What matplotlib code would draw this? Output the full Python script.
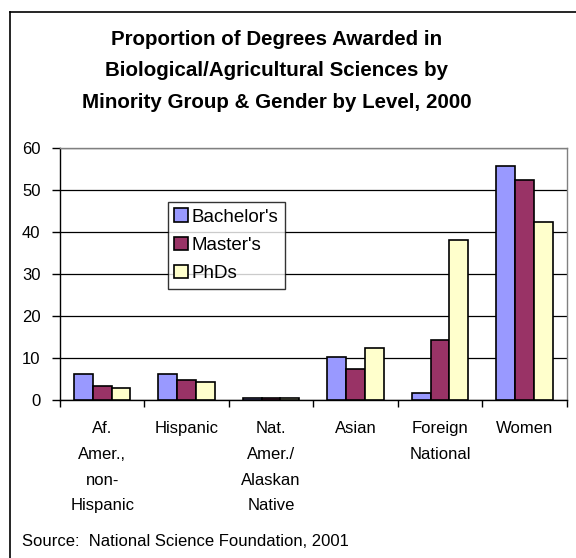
import numpy as np
import matplotlib
matplotlib.use("Agg")
import matplotlib.pyplot as plt
from matplotlib.lines import Line2D

plt.rcParams['font.family'] = ['Liberation Sans', 'DejaVu Sans']

# Data
categories = ["Af.\nAmer.,\nnon-\nHispanic", "Hispanic", "Nat.\nAmer./\nAlaskan\nNative",
              "Asian", "Foreign\nNational", "Women"]
bachelors = [6.2, 6.2, 0.4, 10.3, 1.8, 55.7]
masters = [3.3, 4.8, 0.4, 7.5, 14.2, 52.3]
phds = [2.9, 4.3, 0.4, 12.3, 38.0, 42.4]
series_names = ["Bachelor's", "Master's", "PhDs"]
series_colors = ["#9999FF", "#993366", "#FFFFCC"]
yticks = [0, 10, 20, 30, 40, 50, 60]

title = ("Proportion of Degrees Awarded in\n"
         "Biological/Agricultural Sciences by\n"
         "Minority Group & Gender by Level, 2000")
source = "Source:  National Science Foundation, 2001"


def make_chart():
    fig = plt.figure(figsize=(5.76, 5.58), dpi=100)
    ax = fig.add_axes([0.104, 0.283, 0.880, 0.452])

    x = np.arange(len(categories))
    w = 0.222
    for i, (vals, name, col) in enumerate(zip([bachelors, masters, phds], series_names, series_colors)):
        ax.bar(x + (i - 1) * w, vals, width=w, color=col, edgecolor="black",
               linewidth=1.2, label=name, zorder=3)

    ax.set_xlim(-0.5, len(categories) - 0.5)
    ax.set_ylim(0, 60)
    ax.set_yticks(yticks)
    ax.set_yticklabels([str(t) for t in yticks], fontsize=12)
    ax.yaxis.grid(True, color="black", linewidth=0.9, zorder=0)

    # category labels centred, ticks on the boundaries
    ax.set_xticks(np.arange(-0.5, len(categories), 1.0))
    ax.set_xticklabels([])
    ax.set_xticks(x, minor=True)
    ax.set_xticklabels(categories, minor=True, fontsize=12, linespacing=1.9, va="top")
    ax.tick_params(axis="x", which="minor", length=0, pad=15)
    ax.tick_params(axis="x", which="major", length=5, width=1, direction="out")
    ax.tick_params(axis="y", length=6, width=1, direction="out", pad=8)

    ax.spines["left"].set_color("black")
    ax.spines["bottom"].set_color("black")
    ax.spines["top"].set_color("#808080")
    ax.spines["right"].set_color("#808080")
    for s in ax.spines.values():
        s.set_linewidth(1.0)

    leg = ax.legend(loc="upper left", bbox_to_anchor=(0.213, 0.786), borderaxespad=0,
                    fontsize=13.5, frameon=True, fancybox=False, handlelength=0.7,
                    handleheight=0.7, handletextpad=0.2, borderpad=0.35, labelspacing=0.6)
    leg.get_frame().set_edgecolor("black")
    leg.get_frame().set_linewidth(1.0)

    fig.text(0.48, 1 - 71 / 558, title, ha="center", va="center",
             fontsize=14.8, fontweight="bold", linespacing=1.85)
    fig.text(22 / 576, 1 - 542 / 558, source, ha="left", va="center", fontsize=12)

    # outer chart frame (left and top edges visible)
    fig.add_artist(Line2D([10 / 576, 10 / 576], [0, 1 - 12 / 558], color="black", linewidth=1.2,
                          transform=fig.transFigure))
    fig.add_artist(Line2D([10 / 576, 1], [1 - 12 / 558, 1 - 12 / 558], color="black", linewidth=1.2,
                          transform=fig.transFigure))

    fig.savefig("out.png", dpi=100)
    plt.close(fig)


if __name__ == "__main__":
    make_chart()
